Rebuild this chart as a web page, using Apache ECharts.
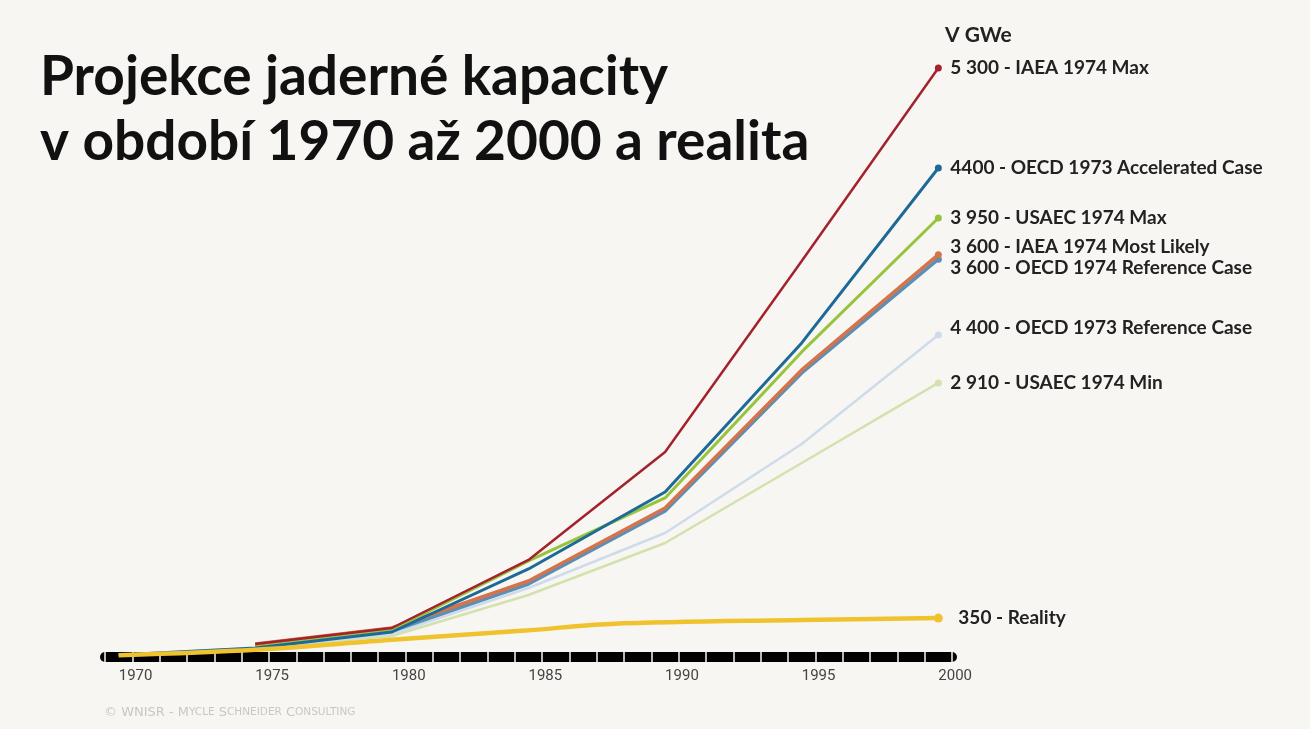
<!DOCTYPE html>
<html>
<head>
<meta charset="utf-8">
<title>Projekce jaderné kapacity</title>
<script src="https://cdn.jsdelivr.net/npm/echarts@6/dist/echarts.min.js"></script>
<style>
  html, body { margin: 0; padding: 0; background: #f8f6f3; }
  #chart { width: 1310px; height: 729px; }
</style>
</head>
<body>
<div id="chart"></div>
<script>
// roky a hodnoty (GWe)
var years = [1970, 1975, 1980, 1985, 1990, 1995, 2000];
var iaeaMax     = [null, 117, 261, 873, 1845, 3564, 5300];
var oecd73Accel = [18, 81, 225, 792, 1485, 2826, 4400];
var usaecMax    = [null, 90, 243, 864, 1431, 2745, 3950];
var iaeaLikely  = [null, 117, 261, 684, 1341, 2583, 3620];
var oecd74Ref   = [null, 99, 234, 657, 1314, 2556, 3580];
var oecd73Ref   = [18, 81, 207, 621, 1116, 1917, 2898];
var usaecMin    = [null, 81, 189, 558, 1026, 1746, 2466];

var realityYears = [1970, 1975, 1980, 1985, 1988, 1995, 2000];
var reality      = [16, 65, 155, 240, 298, 333, 350];

var xTicks = [1970, 1975, 1980, 1985, 1990, 1995, 2000];

var chart = echarts.init(document.getElementById('chart'));

function pairs(xs, ys) {
  var out = [];
  for (var i = 0; i < xs.length; i++) {
    if (ys[i] != null) out.push([xs[i], ys[i]]);
  }
  return out;
}

var bg = '#f8f6f3';
var labelFont = { color: '#222', fontFamily: 'Lato', fontWeight: 'bold', fontSize: 19 };

function line(name, data, color, width, label, offsetY, z) {
  return {
    name: name,
    type: 'line',
    data: pairs(years, data),
    xAxisIndex: 0,
    yAxisIndex: 0,
    symbol: 'none',
    z: z,
    lineStyle: { color: color, width: width },
    itemStyle: { color: color },
    markPoint: {
      symbol: 'circle',
      symbolSize: 7,
      itemStyle: { color: color },
      label: { show: false },
      data: [{ coord: [years[years.length - 1], data[data.length - 1]] }]
    },
    endLabel: Object.assign({
      show: true,
      formatter: label,
      distance: 12,
      offset: [0, offsetY]
    }, labelFont)
  };
}

var option = {
  backgroundColor: bg,
  animation: false,
  grid: [
    { left: 105, right: 358, top: 68, bottom: 72 },
    { left: 118.7, right: 371.7, top: 68, bottom: 72 }
  ],
  xAxis: [
    {
      // černý pruh osy
      type: 'value', gridIndex: 0, position: 'bottom',
      min: 1969.5, max: 2000.5, interval: 1,
      axisLine: { show: true, lineStyle: { color: '#000', width: 10, cap: 'round' } },
      axisTick: { show: true, inside: true, length: 5, lineStyle: { color: bg, width: 1.5 } },
      axisLabel: { show: false },
      splitLine: { show: false }
    },
    {
      type: 'value', gridIndex: 0, position: 'bottom',
      min: 1969.5, max: 2000.5, interval: 1,
      axisLine: { show: false },
      axisTick: { show: true, inside: false, length: 5, lineStyle: { color: bg, width: 1.5 } },
      axisLabel: { show: false },
      splitLine: { show: false }
    },
    {
      // popisky let
      type: 'value', gridIndex: 1, position: 'bottom',
      min: xTicks[0], max: xTicks[xTicks.length - 1], interval: 5,
      axisLine: { show: false },
      axisTick: { show: false },
      splitLine: { show: false },
      axisLabel: {
        show: true, margin: 12, align: 'left',
        color: '#444', fontFamily: 'Roboto', fontSize: 15,
        showMinLabel: true, showMaxLabel: true,
        formatter: function (v) { return String(v); }
      }
    }
  ],
  yAxis: [
    { type: 'value', gridIndex: 0, min: 0, max: 5300, show: false },
    { type: 'value', gridIndex: 1, min: 0, max: 5300, show: false }
  ],
  graphic: [
    {
      type: 'text', left: 40, top: 50,
      style: { text: 'Projekce jaderné kapacity', font: 'bold 55px Lato', fill: '#111' }
    },
    {
      type: 'text', left: 40, top: 115,
      style: { text: 'v období 1970 až 2000 a realita', font: 'bold 55px Lato', fill: '#111' }
    },
    {
      type: 'text', left: 945, top: 25,
      style: { text: 'V GWe', font: 'bold 21px Lato', fill: '#222' }
    },
    {
      type: 'text', left: 104, top: 706,
      style: {
        text: '© WNISR - {a|M}{b|YCLE} {a|S}{b|CHNEIDER} {a|C}{b|ONSULTING}',
        font: '13px "DejaVu Sans"', fill: '#cac7c3',
        rich: {
          a: { fontSize: 13, fontFamily: 'DejaVu Sans', fill: '#cac7c3' },
          b: { fontSize: 10.5, fontFamily: 'DejaVu Sans', fill: '#cac7c3' }
        }
      }
    }
  ],
  series: [
    line('USAEC 1974 Min', usaecMin, '#d3e1ad', 2.5, '2 910 - USAEC 1974 Min', 0, 3),
    line('OECD 1973 Reference Case', oecd73Ref, '#cddbea', 2.5, '4 400 - OECD 1973 Reference Case', -7, 3),
    line('OECD 1974 Reference Case', oecd74Ref, '#5a8fb8', 3.5, '3 600 - OECD 1974 Reference Case', 9, 4),
    line('IAEA 1974 Most Likely', iaeaLikely, '#d5744a', 3.5, '3 600 - IAEA 1974 Most Likely', -8, 5),
    line('USAEC 1974 Max', usaecMax, '#97c43c', 3, '3 950 - USAEC 1974 Max', 0, 6),
    line('OECD 1973 Accelerated Case', oecd73Accel, '#1d6a98', 3, '4400 - OECD 1973 Accelerated Case', 0, 7),
    line('IAEA 1974 Max', iaeaMax, '#a3232c', 2.5, '5 300 - IAEA 1974 Max', 0, 8),
    {
      name: 'Reality',
      type: 'line',
      data: pairs(realityYears, reality),
      xAxisIndex: 0,
      yAxisIndex: 0,
      smooth: 0.35,
      symbol: 'none',
      z: 9,
      lineStyle: { color: '#f0c22e', width: 4.5 },
      itemStyle: { color: '#f0c22e' },
      markPoint: {
        symbol: 'circle',
        symbolSize: 9,
        itemStyle: { color: '#f0c22e' },
        label: { show: false },
        data: [{ coord: [realityYears[realityYears.length - 1], reality[reality.length - 1]] }]
      },
      endLabel: Object.assign({
        show: true,
        formatter: '350 - Reality',
        distance: 20
      }, labelFont)
    }
  ]
};

chart.setOption(option);
</script>
</body>
</html>
